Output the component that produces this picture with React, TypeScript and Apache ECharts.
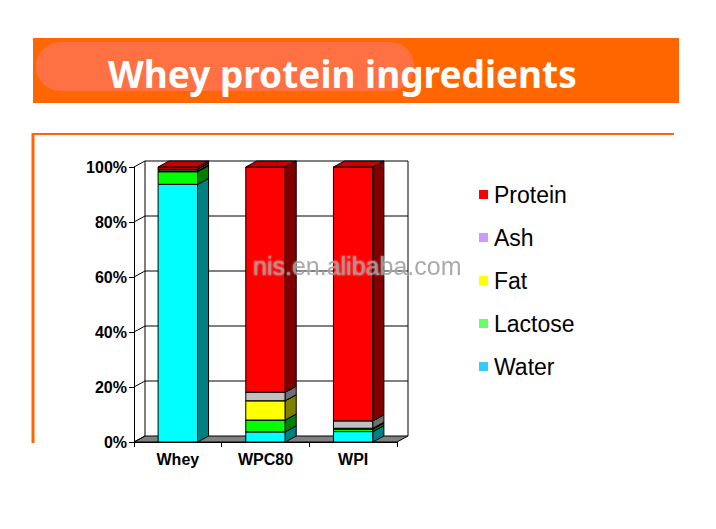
import React, { useEffect, useRef } from "react";
import * as echarts from "echarts";

const categories = ["Whey", "WPC80", "WPI"];
const water = [93.7, 3.7, 3.8];
const lactose = [4.6, 4.3, 0.9];
const fat = [0.3, 7.0, 0.3];
const ash = [0.6, 3.1, 2.7];
const protein = [0.8, 81.9, 92.3];
const yTicks = [0, 20, 40, 60, 80, 100];
const legendOrder = ["Protein", "Ash", "Fat", "Lactose", "Water"];

const DX = 11;
const DY = -6;

const seriesSpec = [
  { name: "Water", values: water, front: "#00ffff", top: "#00cccc", side: "#008080", legend: "#33ccff" },
  { name: "Lactose", values: lactose, front: "#00ff00", top: "#00cc00", side: "#008000", legend: "#66ff66" },
  { name: "Fat", values: fat, front: "#ffff00", top: "#cccc00", side: "#808000", legend: "#ffff00" },
  { name: "Ash", values: ash, front: "#c0c0c0", top: "#a0a0a0", side: "#707070", legend: "#cc99ff" },
  { name: "Protein", values: protein, front: "#ff0000", top: "#c80000", side: "#800000", legend: "#ff0000" },
];

export default function App() {
  const ref = useRef<HTMLDivElement>(null);
  useEffect(() => {
    if (!ref.current) return;
    const chart = echarts.init(ref.current, null, { renderer: "svg" });

    const cum = categories.map(() => 0);
    const barSeries = seriesSpec.map((s) => {
      const data = s.values.map((v, i) => {
        const lo = cum[i];
        cum[i] += v;
        return [i, lo, cum[i]];
      });
      return {
        type: "custom",
        name: s.name,
        z: 3,
        itemStyle: { color: s.front },
        encode: { x: 0, y: [1, 2] },
        data,
        renderItem: (params: any, api: any) => {
          const ci = api.value(0);
          const lo = api.value(1);
          const hi = api.value(2);
          const pLo = api.coord([ci, lo]);
          const pHi = api.coord([ci, hi]);
          const band = api.size([1, 0])[0];
          const w = band * 0.45;
          const x0 = pLo[0] - w / 2;
          const x1 = x0 + w;
          const y0 = pLo[1];
          const y1 = pHi[1];
          const stroke = { stroke: "#000", lineWidth: 1 };
          return {
            type: "group",
            children: [
              { type: "rect", shape: { x: x0, y: y1, width: w, height: y0 - y1 }, style: { fill: s.front, ...stroke } },
              { type: "polygon", shape: { points: [[x1, y0], [x1 + DX, y0 + DY], [x1 + DX, y1 + DY], [x1, y1]] }, style: { fill: s.side, ...stroke } },
              { type: "polygon", shape: { points: [[x0, y1], [x0 + DX, y1 + DY], [x1 + DX, y1 + DY], [x1, y1]] }, style: { fill: s.top, ...stroke } },
            ],
          };
        },
      };
    });

    const frameSeries = {
      type: "custom",
      name: "frame",
      z: 1,
      silent: true,
      encode: { x: 0, y: 1 },
      data: yTicks.map((v) => [0, v]),
      renderItem: (params: any, api: any) => {
        const v = api.value(1);
        const band = api.size([1, 0])[0];
        const pl = api.coord([0, v]);
        const pr = api.coord([categories.length - 1, v]);
        const left = pl[0] - band / 2;
        const right = pr[0] + band / 2;
        const y = pl[1];
        const ls = { stroke: "#000", lineWidth: 1 };
        const children: any[] = [];
        if (v === yTicks[0]) {
          const topY = api.coord([0, yTicks[yTicks.length - 1]])[1];
          children.push({
            type: "polygon",
            shape: { points: [[left, y], [right, y], [right + DX, y + DY], [left + DX, y + DY]] },
            style: { fill: "#808080", ...ls },
          });
          children.push({ type: "line", shape: { x1: left + DX, y1: y + DY, x2: left + DX, y2: topY + DY }, style: ls });
          children.push({ type: "line", shape: { x1: right + DX, y1: y + DY, x2: right + DX, y2: topY + DY }, style: ls });
        } else {
          children.push({ type: "line", shape: { x1: left + DX, y1: y + DY, x2: right + DX, y2: y + DY }, style: ls });
        }
        children.push({ type: "line", shape: { x1: left, y1: y, x2: left + DX, y2: y + DY }, style: ls });
        return { type: "group", children };
      },
    };

    const option: any = {
      animation: false,
      backgroundColor: "#fff",
      grid: { left: 134, top: 167, width: 263, height: 275, containLabel: false },
      xAxis: {
        type: "category",
        data: categories,
        axisLine: { show: true, lineStyle: { color: "#000", width: 1 } },
        axisTick: { show: true, length: 5, lineStyle: { color: "#000" } },
        axisLabel: { color: "#000", fontWeight: "bold", fontSize: 16, fontFamily: "Liberation Sans", margin: 9 },
        splitLine: { show: false },
      },
      yAxis: {
        type: "value",
        min: 0,
        max: 100,
        interval: 20,
        axisLine: { show: true, lineStyle: { color: "#000", width: 1 } },
        axisTick: { show: true, length: 5, lineStyle: { color: "#000" } },
        axisLabel: { color: "#000", fontWeight: "bold", fontSize: 16, fontFamily: "Liberation Sans", margin: 7, formatter: "{value}%" },
        splitLine: { show: false },
      },
      legend: {
        orient: "vertical",
        left: 474,
        top: 178,
        itemWidth: 9,
        itemHeight: 9,
        itemGap: 20,
        icon: "rect",
        selectedMode: false,
        textStyle: { fontFamily: "Liberation Sans", fontSize: 23, color: "#000", lineHeight: 23, padding: [0, 0, 0, 1] },
        data: legendOrder.map((n) => {
          const s = seriesSpec.find((x) => x.name === n)!;
          return { name: n, itemStyle: { color: s.legend, borderWidth: 0 } };
        }),
      },
      graphic: [
        { type: "rect", z: 0, shape: { x: 33, y: 38, width: 646, height: 65 }, style: { fill: "#ff6600" } },
        { type: "rect", z: 1, shape: { x: 36, y: 42, width: 378, height: 49, r: 24 }, style: { fill: "#ff7043" } },
        {
          type: "text",
          z: 2,
          x: 108,
          y: 73,
          style: { text: "Whey protein ingredients", fill: "#fff", fontSize: 37, fontWeight: "bold", fontFamily: "Noto Sans", verticalAlign: "middle" },
        },
        { type: "line", z: 0, shape: { x1: 33, y1: 134, x2: 674, y2: 134 }, style: { stroke: "#ff6600", lineWidth: 2 } },
        { type: "line", z: 0, shape: { x1: 33, y1: 133, x2: 33, y2: 443 }, style: { stroke: "#ff6600", lineWidth: 3 } },
        {
          type: "text",
          z: 100,
          x: 253,
          y: 266,
          style: {
            text: "nis.en.alibaba.com",
            fill: "rgba(150,150,150,0.85)",
            fontSize: 25,
            fontFamily: "Liberation Sans",
            verticalAlign: "middle",
            textShadowColor: "rgba(255,255,255,0.8)",
            textShadowBlur: 2,
          },
        },
      ],
      series: [frameSeries, ...barSeries],
    };
    chart.setOption(option);
    return () => chart.dispose();
  }, []);
  return <div ref={ref} style={{ position: "absolute", left: 0, top: 0, width: 716, height: 529 }} />;
}
